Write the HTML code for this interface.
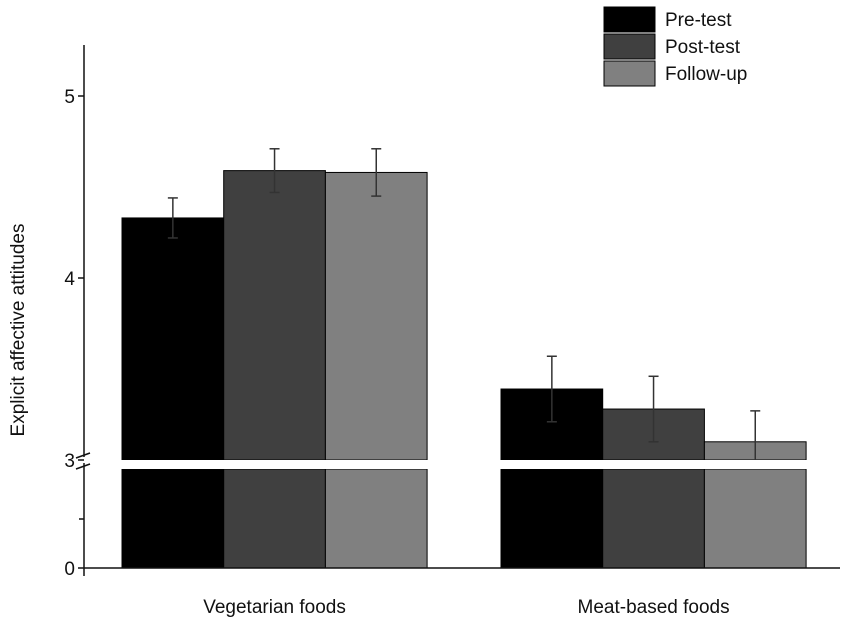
<!DOCTYPE html>
<html><head><meta charset="utf-8"><style>
body{margin:0;background:#fff;font-family:"Liberation Sans",sans-serif;}
</style></head><body>
<svg id="c" width="851" height="626" xmlns="http://www.w3.org/2000/svg" font-family="Liberation Sans, sans-serif"></svg>
<script>
const categories=["Vegetarian foods","Meat-based foods"];
const seriesNames=["Pre-test","Post-test","Follow-up"];
const preTest=[4.33,3.39];
const postTest=[4.59,3.28];
const followUp=[4.58,3.10];
const preErr=[0.11,0.18];
const postErr=[0.12,0.18];
const followErr=[0.13,0.17];
const yTicks=[3,4,5];
const colors=["#000000","#404040","#808080"];
const NS="http://www.w3.org/2000/svg";
const svg=document.getElementById('c');
function el(t,a,p){const e=document.createElementNS(NS,t);for(const k in a)e.setAttribute(k,a[k]);(p||svg).appendChild(e);return e;}
function y(v){return 460-(v-3)*182;}
const groupX=[122,501],barW=101.7;
const series=[preTest,postTest,followUp],errs=[preErr,postErr,followErr];
categories.forEach((c,i)=>{
  series.forEach((s,j)=>{
    const x=groupX[i]+j*barW;
    const r=el('rect',{x:x,y:y(s[i]),width:barW,height:y(3)-y(s[i]),fill:colors[j],stroke:'#000','stroke-width':1});
    
    
    const lr=el('rect',{x:x,y:469,width:barW,height:99,fill:colors[j],stroke:'#000','stroke-width':1});
    
    
    const cx=x+barW/2,e=errs[j][i];
    const lo=Math.min(y(s[i]-e),y(3));
    const g=el('g',{stroke:'#333','stroke-width':1.5});
    
    
    el('line',{x1:cx,x2:cx,y1:y(s[i]+e),y2:lo},g);
    el('line',{x1:cx-5,x2:cx+5,y1:y(s[i]+e),y2:y(s[i]+e)},g);
    if(y(s[i]-e)<y(3)) el('line',{x1:cx-5,x2:cx+5,y1:lo,y2:lo},g);
  });
  const t=el('text',{x:groupX[i]+barW*1.5,y:613,'text-anchor':'middle','font-size':19,fill:'#111'});
  t.textContent=c;
  
  
});
// break gap
el('rect',{x:86,y:460,width:740,height:9,fill:'#fff'});
// axis
const ax=el('g',{stroke:'#111','stroke-width':1.5});


el('line',{x1:84,x2:84,y1:45,y2:457},ax);
el('line',{x1:84,x2:84,y1:463,y2:576},ax);
el('line',{x1:76,x2:90,y1:458,y2:453},ax);
el('line',{x1:76,x2:90,y1:469,y2:464},ax);
el('line',{x1:78,x2:840,y1:568,y2:568},ax);
el('line',{x1:79,x2:84,y1:519,y2:519},ax);
yTicks.forEach(v=>{
  el('line',{x1:78,x2:84,y1:y(v),y2:y(v)},ax);
  const t=el('text',{x:75,y:y(v)+7,'text-anchor':'end','font-size':19,fill:'#111'});
  t.textContent=v;
  
  
});
const z=el('text',{x:75,y:575,'text-anchor':'end','font-size':19,fill:'#111'});z.textContent='0';


const yt=el('text',{x:24,y:330,'text-anchor':'middle','font-size':19,fill:'#111',transform:'rotate(-90 24 330)'});
yt.textContent='Explicit affective attitudes';


seriesNames.forEach((n,j)=>{
  const g=el('g',{});
  
  
  el('rect',{x:604,y:7+j*27,width:51,height:25,fill:colors[j],stroke:'#000','stroke-width':1},g);
  const t=el('text',{x:665,y:26+j*27,'font-size':19,fill:'#111'},g);t.textContent=n;
});
</script>
</body></html>
